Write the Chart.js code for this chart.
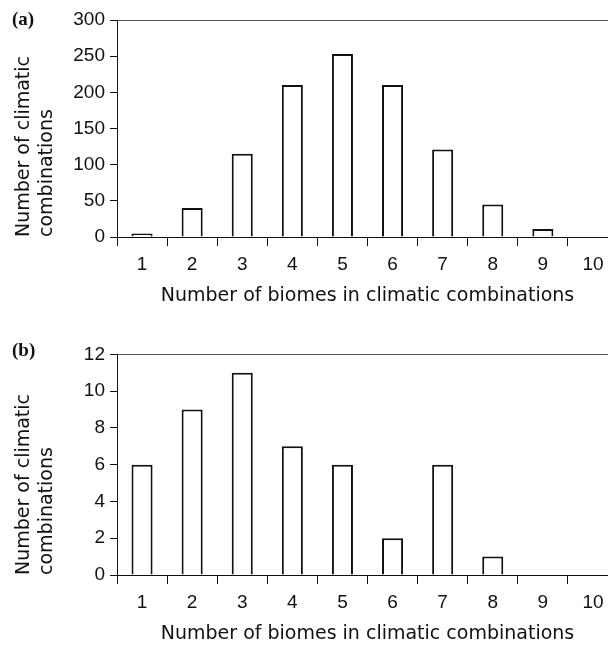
<!DOCTYPE html>
<html>
<head>
<meta charset="utf-8">
<title>Biomes in climatic combinations</title>
<script src="https://cdn.jsdelivr.net/npm/chart.js@4.4.1/dist/chart.umd.min.js"></script>
<style>
    html, body { margin: 0; padding: 0; background: #fff; }
    body { width: 608px; height: 647px; overflow: hidden; position: relative; }
    .panel { position: absolute; left: 0; width: 620px; height: 323px; }
    .tag { position: absolute; left: 12px; font: bold 19px "Liberation Serif", "Times New Roman", serif; color: #111; }
</style>
</head>
<body>
<div class="panel" style="top:0px"><canvas id="chartA" width="620" height="323"></canvas></div>
<div class="panel" style="top:338px"><canvas id="chartB" width="620" height="323"></canvas></div>
<div class="tag" style="top:8px">(a)</div>
<div class="tag" style="top:339px">(b)</div>
<script>
// datos
const categories = ['1', '2', '3', '4', '5', '6', '7', '8', '9', '10'];
const combosA = [5, 40, 115, 210, 253, 210, 121, 45, 11, 0];
const combosB = [6, 9, 11, 7, 6, 2, 6, 1, 0, 0];
const yMaxA = 300, yStepA = 50;
const yMaxB = 12, yStepB = 2;
const xTitle = 'Number of biomes in climatic combinations';
const yTitle = ['Number of climatic', 'combinations'];

const INK = '#111';
const tickFont = { family: '"Liberation Sans", Arial, sans-serif', size: 19 };
const titleFont = { family: '"DejaVu Sans", sans-serif', size: 19 };

function buildChart(canvas, values, yMax, yStep, top) {
    return new Chart(canvas, {
        type: 'bar',
        data: {
            labels: categories,
            datasets: [{
                data: values,
                backgroundColor: '#fff',
                borderColor: INK,
                borderWidth: 2,
                barPercentage: 0.42,
                categoryPercentage: 1,
            }],
        },
        options: {
            responsive: false,
            animation: false,
            events: [],
            layout: { padding: { top: top, right: 2, bottom: 0, left: 0 } },
            plugins: {
                legend: { display: false },
                tooltip: { enabled: false },
            },
            scales: {
                x: {
                    offset: true,
                    grid: { offset: true, drawOnChartArea: false, tickLength: 9, color: INK },
                    border: { color: INK, width: 1 },
                    ticks: { color: INK, font: tickFont, padding: 7, maxRotation: 0 },
                    title: { display: true, text: xTitle, color: INK, font: titleFont, padding: { top: 0, bottom: 16 } },
                    afterFit: (s) => { s.height = 86; },
                },
                y: {
                    min: 0,
                    max: yMax,
                    grid: {
                        // solo la linea superior del marco
                        color: (c) => c.tick && c.tick.value === yMax ? '#555' : 'rgba(0,0,0,0)',
                        tickColor: INK,
                        tickLength: 7,
                    },
                    border: { color: INK, width: 1 },
                    ticks: { stepSize: yStep, color: INK, font: tickFont, padding: 5 },
                    title: { display: true, text: yTitle, align: 'start', color: INK, font: titleFont, padding: { top: 13, bottom: 0 } },
                    afterFit: (s) => { s.width = 117; },
                },
            },
        },
    });
}

buildChart(document.getElementById('chartA'), combosA, yMaxA, yStepA, 20);
buildChart(document.getElementById('chartB'), combosB, yMaxB, yStepB, 16);
</script>
</body>
</html>
